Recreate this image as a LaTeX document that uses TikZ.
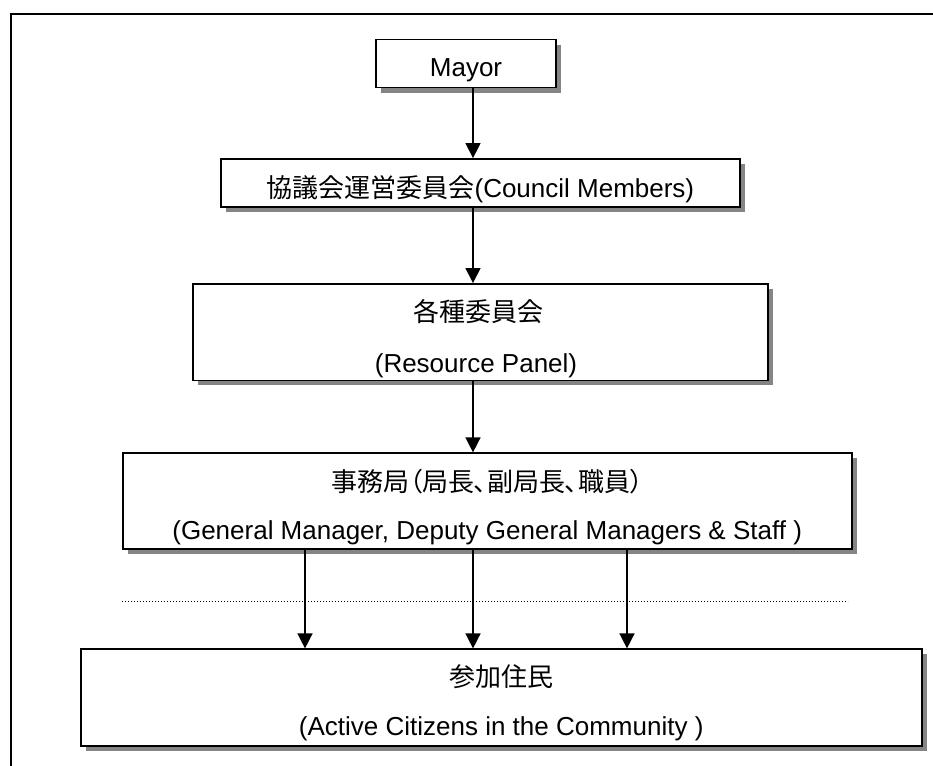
\documentclass[tikz,border=0pt]{standalone}
\usepackage{fontspec}
\setmainfont{Liberation Sans}
\newfontfamily\cjk[RawFeature=+palt]{Noto Sans CJK JP}
\usetikzlibrary{shadows,arrows.meta}

\begin{document}
\begin{tikzpicture}[x=1pt,y=-1pt,
  box/.style={draw=black, line width=1.8pt, fill=white, inner sep=0pt,
    drop shadow={shadow xshift=5pt, shadow yshift=-5pt, fill=black!48, opacity=1}},
  lbl/.style={anchor=base, inner sep=0pt, font=\fontsize{26}{30}\selectfont},
  arr/.style={line width=1.5pt, -{Triangle[length=15pt,width=15pt]}},
  frameline/.style={line width=2.4pt},
  dotline/.style={line width=1pt, dash pattern=on 1pt off 2pt}
]
\useasboundingbox (0,0) rectangle (933,765);
\clip (0,0) rectangle (933,765);

% outer frame (open to the right and bottom)
\coordinate (fbl) at (11,775);
\coordinate (ftl) at (11,14);
\coordinate (ftr) at (945,14);
\draw[frameline] (fbl) -- (ftl) -- (ftr);

% boxes
\node[box, minimum width=180pt, minimum height=48pt] (mayor) at (466,63.6) {};
\node[box, minimum width=519pt, minimum height=48pt] (council) at (480.4,183) {};
\node[box, minimum width=575pt, minimum height=96.5pt] (res) at (480.2,332.2) {};
\node[box, minimum width=729pt, minimum height=96pt] (gm) at (487.2,501.3) {};
\node[box, minimum width=841pt, minimum height=96.4pt] (cit) at (501.2,697.5) {};

% texts
\node[lbl] (mayort) at (466,76.7) {Mayor};
\node[lbl] (councilt) at (480.4,197.5) {{\cjk 協議会運営委員会}(Council Members)};
\node[lbl] (rest1) at (478,321) {\cjk 各種委員会};
\node[lbl] (rest2) at (476,372) {(Resource Panel)};
\node[lbl] (gmt1) at (487.2,491) {\cjk 事務局（局長、副局長、職員）};
\node[lbl] (gmt2) at (487.2,539) {(General Manager, Deputy General Managers \& Staff )};
\node[lbl] (citt1) at (501.2,686) {\cjk 参加住民};
\node[lbl] (citt2) at (501.2,735) {(Active Citizens in the Community )};

% vertical axes of the connectors
\coordinate (ax) at (473,0);
\coordinate (axl) at (305,0);
\coordinate (axr) at (627,0);

\draw[arr] (mayor.south -| ax) -- (council.north -| ax);
\draw[arr] (council.south -| ax) -- (res.north -| ax);
\draw[arr] (res.south -| ax) -- (gm.north -| ax);
\draw[arr] (gm.south -| axl) -- (cit.north -| axl);
\draw[arr] (gm.south -| ax) -- (cit.north -| ax);
\draw[arr] (gm.south -| axr) -- (cit.north -| axr);

% dotted separator
\coordinate (d1) at (122,601);
\coordinate (d2) at (848,601);
\draw[dotline] (d1) -- (d2);
\end{tikzpicture}
\end{document}
